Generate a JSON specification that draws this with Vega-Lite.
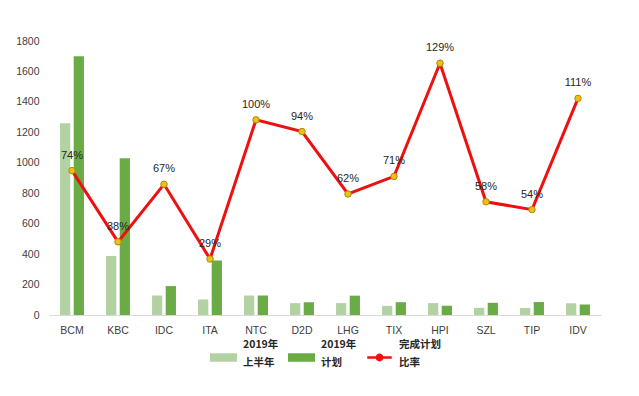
{
  "$schema": "https://vega.github.io/schema/vega-lite/v6.json",
  "width": 552,
  "height": 274,
  "padding": {"left": 5, "top": 36, "right": 5, "bottom": 5},
  "background": "white",
  "config": {
    "view": {"stroke": null},
    "font": "Liberation Sans",
    "axis": {"grid": false, "ticks": false, "labelFont": "Liberation Sans", "labelFontSize": 10.5, "labelColor": "#404040", "title": null},
    "legend": {"layout": {"bottom": {"anchor": "middle"}}}
  },
  "data": {
    "values": [
      {"cat": "BCM", "上半年": 1260, "计划": 1700, "ratio": 0.74},
      {"cat": "KBC", "上半年": 388, "计划": 1030, "ratio": 0.375},
      {"cat": "IDC", "上半年": 128, "计划": 190, "ratio": 0.67},
      {"cat": "ITA", "上半年": 102, "计划": 358, "ratio": 0.287},
      {"cat": "NTC", "上半年": 128, "计划": 128, "ratio": 1.0},
      {"cat": "D2D", "上半年": 78, "计划": 84, "ratio": 0.94},
      {"cat": "LHG", "上半年": 78, "计划": 127, "ratio": 0.62},
      {"cat": "TIX", "上半年": 60, "计划": 84, "ratio": 0.71},
      {"cat": "HPI", "上半年": 78, "计划": 61, "ratio": 1.29},
      {"cat": "SZL", "上半年": 47, "计划": 80, "ratio": 0.58},
      {"cat": "TIP", "上半年": 46, "计划": 85, "ratio": 0.54},
      {"cat": "IDV", "上半年": 77, "计划": 69, "ratio": 1.11}
    ]
  },
  "layer": [
    {
      "transform": [{"fold": ["上半年", "计划"], "as": ["series", "value"]}],
      "mark": {"type": "bar"},
      "encoding": {
        "x": {
          "field": "cat", "type": "nominal", "sort": null,
          "scale": {"paddingInner": 0.48, "paddingOuter": 0.24},
          "axis": {"labelAngle": 0, "labelPadding": 10, "domainColor": "#d9d9d9", "domainWidth": 1}
        },
        "xOffset": {"field": "series", "type": "nominal", "sort": ["上半年", "计划"], "scale": {"paddingInner": 0.25}},
        "y": {
          "field": "value", "type": "quantitative",
          "scale": {"domain": [0, 1800], "nice": false},
          "axis": {"values": [0, 200, 400, 600, 800, 1000, 1200, 1400, 1600, 1800], "format": "d", "domain": false, "labelPadding": 10, "minExtent": 44, "maxExtent": 44}
        },
        "color": {
          "field": "series", "type": "nominal",
          "scale": {"domain": ["上半年", "计划", "比率"], "range": ["#b3d2a3", "#6aab45", "#ee1010"]},
          "legend": {
            "orient": "bottom", "direction": "horizontal", "title": null, "offset": 8,
            "labelFont": "Noto Sans CJK SC", "labelFontSize": 10.5, "labelFontWeight": "bold", "labelColor": "#262626",
            "labelOffset": 6, "columnPadding": 5, "symbolSize": 600,
            "labelExpr": "datum.label == '比率' ? ['完成计划', '比率'] : ['2019年', datum.label]",
            "encode": {
              "symbols": {
                "update": {
                  "shape": [
                    {"test": "datum.value == '比率'", "value": "M-1,0H-0.22A0.22,0.22 0 1,1 0.22,0A0.22,0.22 0 1,1 -0.22,0A0.22,0.22 0 1,1 0.22,0H1"},
                    {"value": "M-1,-0.25H1V0.25H-1Z"}
                  ],
                  "fill": [
                    {"test": "datum.value == '比率'", "value": "#f0c010"},
                    {"test": "datum.value == '上半年'", "value": "#b3d2a3"},
                    {"value": "#6aab45"}
                  ],
                  "stroke": [
                    {"test": "datum.value == '比率'", "value": "#ee1010"},
                    {"value": "transparent"}
                  ],
                  "strokeWidth": {"value": 2.5},
                  "opacity": {"value": 1}
                }
              },
              "labels": {
                "update": {"lineHeight": {"value": 18}, "dy": {"value": -13}}
              }
            }
          }
        }
      }
    },
    {
      "mark": {"type": "line", "strokeWidth": 3},
      "encoding": {
        "x": {"field": "cat", "type": "nominal", "sort": null},
        "y": {"field": "ratio", "type": "quantitative", "scale": {"domain": [0, 1.404], "nice": false}, "axis": null},
        "color": {"datum": "比率"}
      }
    },
    {
      "mark": {"type": "point", "filled": true, "fill": "#f0c010", "stroke": "#a88a10", "strokeWidth": 1, "size": 42, "opacity": 1},
      "encoding": {
        "x": {"field": "cat", "type": "nominal", "sort": null},
        "y": {"field": "ratio", "type": "quantitative", "scale": {"domain": [0, 1.404], "nice": false}, "axis": null}
      }
    },
    {
      "mark": {"type": "text", "dy": -15, "fontSize": 11, "font": "Liberation Sans", "color": "#262626"},
      "encoding": {
        "x": {"field": "cat", "type": "nominal", "sort": null},
        "y": {"field": "ratio", "type": "quantitative", "scale": {"domain": [0, 1.404], "nice": false}, "axis": null},
        "text": {"field": "ratio", "type": "quantitative", "format": ".0%"}
      }
    }
  ],
  "resolve": {"scale": {"y": "independent"}}
}
